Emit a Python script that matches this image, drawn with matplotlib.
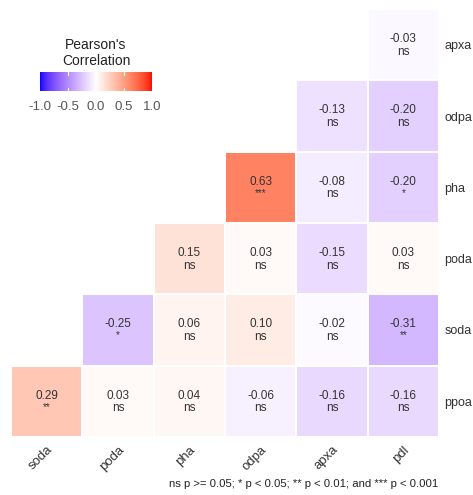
import numpy as np
import matplotlib
matplotlib.use("Agg")
import matplotlib.pyplot as plt
from matplotlib.colors import ListedColormap

plt.rcParams['font.family'] = ['Liberation Sans', 'DejaVu Sans']

x_labels = ["soda", "poda", "pha", "odpa", "apxa", "pdl"]
y_labels = ["apxa", "odpa", "pha", "poda", "soda", "ppoa"]  # top to bottom

# correlation values per row (None = not shown)
r_apxa = [None, None, None, None, None, -0.03]
r_odpa = [None, None, None, None, -0.13, -0.20]
r_pha = [None, None, None, 0.63, -0.08, -0.20]
r_poda = [None, None, 0.15, 0.03, -0.15, 0.03]
r_soda = [None, -0.25, 0.06, 0.10, -0.02, -0.31]
r_ppoa = [0.29, 0.03, 0.04, -0.06, -0.16, -0.16]

s_apxa = [None, None, None, None, None, "ns"]
s_odpa = [None, None, None, None, "ns", "ns"]
s_pha = [None, None, None, "***", "ns", "*"]
s_poda = [None, None, "ns", "ns", "ns", "ns"]
s_soda = [None, "*", "ns", "ns", "ns", "**"]
s_ppoa = ["**", "ns", "ns", "ns", "ns", "ns"]

corr_rows = [r_apxa, r_odpa, r_pha, r_poda, r_soda, r_ppoa]
sig_rows = [s_apxa, s_odpa, s_pha, s_poda, s_soda, s_ppoa]


# blue - white - red gradient interpolated in CIELAB
def srgb_to_lab(c):
    c = np.asarray(c, float)
    lin = np.where(c <= 0.04045, c / 12.92, ((c + 0.055) / 1.055) ** 2.4)
    M = np.array([[0.4124, 0.3576, 0.1805],
                  [0.2126, 0.7152, 0.0722],
                  [0.0193, 0.1192, 0.9505]])
    xyz = M @ lin
    wp = np.array([0.95047, 1.0, 1.08883])
    t = xyz / wp
    f = np.where(t > (6 / 29) ** 3, np.cbrt(t), t / (3 * (6 / 29) ** 2) + 4 / 29)
    return np.array([116 * f[1] - 16, 500 * (f[0] - f[1]), 200 * (f[1] - f[2])])


def lab_to_srgb(lab):
    L, a, b = lab
    fy = (L + 16) / 116
    fx = fy + a / 500
    fz = fy - b / 200
    f = np.array([fx, fy, fz])
    t = np.where(f > 6 / 29, f ** 3, 3 * (6 / 29) ** 2 * (f - 4 / 29))
    xyz = t * np.array([0.95047, 1.0, 1.08883])
    Minv = np.array([[3.2406, -1.5372, -0.4986],
                     [-0.9689, 1.8758, 0.0415],
                     [0.0557, -0.2040, 1.0570]])
    lin = Minv @ xyz
    lin = np.clip(lin, 0, 1)
    c = np.where(lin <= 0.0031308, 12.92 * lin, 1.055 * lin ** (1 / 2.4) - 0.055)
    return np.clip(c, 0, 1)


lab_b = srgb_to_lab([0, 0, 1])
lab_w = srgb_to_lab([1, 1, 1])
lab_r = srgb_to_lab([1, 0, 0])
cols = []
for v in np.linspace(-1, 1, 256):
    if v < 0:
        lab = lab_w + (lab_b - lab_w) * (-v)
    else:
        lab = lab_w + (lab_r - lab_w) * v
    cols.append(lab_to_srgb(lab))
cmap = ListedColormap(cols)

fig = plt.figure(figsize=(4.73, 4.95), dpi=100)
ax = fig.add_axes([11 / 473, (495 - 437) / 495, 428 / 473, 428 / 495])

n_r, n_c = len(y_labels), len(x_labels)
Z = np.full((n_r, n_c), np.nan)
for i, row in enumerate(corr_rows):
    for j, v in enumerate(row):
        if v is not None:
            Z[i, j] = v
Zm = np.ma.masked_invalid(Z)
mesh = ax.pcolormesh(np.arange(n_c + 1), np.arange(n_r + 1), Zm, cmap=cmap,
                     vmin=-1, vmax=1, edgecolors="white", linewidth=1.2)
ax.set_xlim(0, n_c)
ax.set_ylim(n_r, 0)

for i in range(n_r):
    for j in range(n_c):
        v = corr_rows[i][j]
        if v is None:
            continue
        ax.text(j + 0.5, i + 0.42, f"{v:.2f}", ha="center", va="center",
                fontsize=8.5, color="#333333")
        sig = sig_rows[i][j]
        if sig == "ns":
            ax.text(j + 0.5, i + 0.6, sig, ha="center", va="center",
                    fontsize=8.5, color="#333333")
        else:
            ax.text(j + 0.5, i + 0.575, sig, ha="center", va="center",
                    fontsize=7, color="#333333")

ax.set_xticks(np.arange(n_c) + 0.5)
ax.set_xticklabels(x_labels, rotation=45, ha="right", rotation_mode="anchor",
                   fontsize=9.5, color="#333333")
ax.set_yticks(np.arange(n_r) + 0.5)
ax.set_yticklabels(y_labels, fontsize=9, color="#333333")
ax.yaxis.tick_right()
ax.tick_params(axis="x", length=0, pad=5)
ax.tick_params(axis="y", length=0, pad=4)
for s in ax.spines.values():
    s.set_visible(False)

# colour legend
cax = fig.add_axes([40 / 473, (495 - 91) / 495, 112 / 473, 19 / 495])
cb = fig.colorbar(mesh, cax=cax, orientation="horizontal")
cb.outline.set_visible(False)
cb.set_ticks([-1.0, -0.5, 0.0, 0.5, 1.0])
cb.set_ticklabels(["-1.0", "-0.5", "0.0", "0.5", "1.0"])
cax.tick_params(length=0, labelsize=9.5, colors="#555555", pad=7)
for t in [-0.5, 0.0, 0.5]:
    cax.plot([t, t], [0, 0.15], color="white", lw=0.8, transform=cax.get_xaxis_transform())
    cax.plot([t, t], [0.85, 1], color="white", lw=0.8, transform=cax.get_xaxis_transform())
fig.text(96 / 473, 1 - 53 / 495, "Pearson's\nCorrelation", ha="center", va="center",
         fontsize=10, color="#222222", linespacing=1.2)

fig.text(438 / 473, 1 - 484 / 495,
         "ns p >= 0.05; * p < 0.05; ** p < 0.01; and *** p < 0.001",
         ha="right", va="center", fontsize=8.2, color="#222222")

fig.savefig("out.png", dpi=100, facecolor="white")
